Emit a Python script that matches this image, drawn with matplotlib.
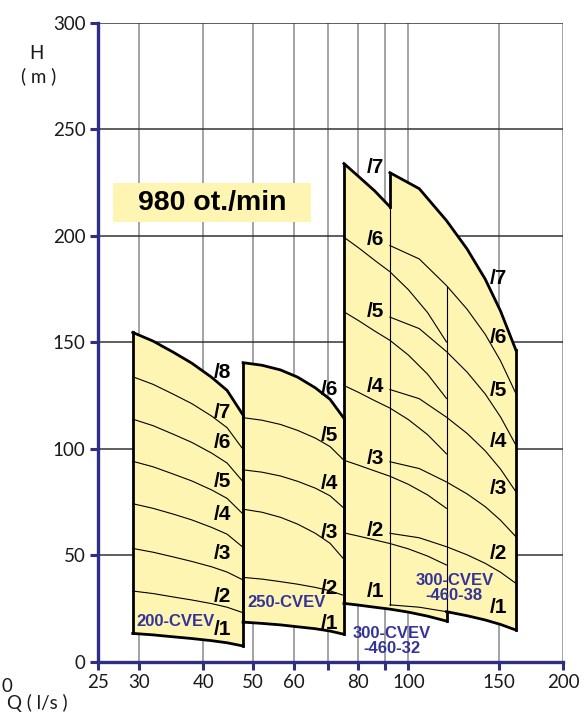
import matplotlib.pyplot as plt
from matplotlib.patches import Rectangle

# Q [l/s] grid per pump series, H [m] per stage (/1 at bottom ... /n at top)
q_200 = [29.2, 32, 35, 38, 41.5, 44.5, 47.8]
h_200 = [
    [13.2, 12.5, 11.6, 10.8, 9.8, 8.8, 7.3],
    [33.1, 31.9, 30.3, 28.9, 27.2, 25.5, 22.9],
    [53.1, 51.3, 49.1, 47.0, 44.5, 42.0, 38.3],
    [74.1, 71.9, 69.2, 66.5, 63.0, 59.8, 53.6],
    [94.0, 91.4, 88.0, 84.8, 80.6, 76.6, 69.2],
    [113.8, 110.7, 106.7, 102.9, 97.9, 93.2, 84.4],
    [133.7, 130.1, 125.5, 121.1, 115.3, 109.8, 99.6],
    [154.5, 150.4, 145.2, 140.1, 133.5, 127.3, 115.7],
]

q_250 = [47.8, 52, 56.5, 61, 66, 70.5, 75]
h_250 = [
    [18.5, 17.9, 17.2, 16.3, 15.4, 14.3, 12.8],
    [39.5, 38.7, 37.5, 36.3, 34.8, 33.2, 31.0],
    [71.5, 70.1, 67.7, 64.5, 60.2, 55.5, 48.0],
    [90.0, 88.9, 87.1, 84.6, 81.4, 77.8, 72.0],
    [114.5, 113.3, 111.3, 108.5, 104.9, 100.9, 94.5],
    [140.3, 139.1, 136.9, 133.5, 128.5, 123.1, 114.2],
]

q_300_32 = [75, 80, 86, 92.1, 100, 109, 118.6]
h_300_32 = [
    [27.3, 26.5, 25.5, 24.6, 23.2, 21.3, 19.0],
    [60.4, 58.9, 57.1, 55.4, 52.9, 49.5, 45.3],
    [94.5, 92.2, 89.5, 87.0, 83.2, 78.2, 71.9],
    [129.6, 126.4, 122.5, 119.0, 113.6, 106.5, 97.5],
    [164.2, 160.1, 155.2, 150.8, 143.9, 134.9, 123.5],
    [199.2, 194.3, 188.4, 183.0, 174.6, 163.8, 150.0],
    [233.8, 227.8, 221.0, 213.5, 204.8, 192.0, 175.8],
]

q_300_38 = [92.1, 105, 118.6, 130, 141, 151, 161.7]
h_300_38 = [
    [26.6, 25.5, 23.4, 21.5, 19.5, 17.4, 14.8],
    [60.2, 58.1, 53.9, 50.1, 46.1, 41.9, 36.7],
    [93.8, 90.6, 84.3, 78.7, 72.7, 66.3, 58.6],
    [127.7, 123.4, 114.7, 107.1, 98.9, 90.3, 79.7],
    [161.7, 156.3, 145.5, 135.9, 125.6, 114.8, 101.6],
    [195.3, 189.0, 176.5, 165.4, 153.6, 141.1, 125.8],
    [229.5, 222.0, 207.0, 193.7, 179.5, 164.5, 146.2],
]

# stage labels (Q, H per stage /1 ... /n)
lab_q = [43.6, 70.2, 86.3, 149.4]
lab_h = [
    [15.1, 30.4, 50.8, 68.8, 84.7, 102.7, 116.8, 135.8],
    [17.9, 34.1, 60.5, 83.5, 105.9, 127.5],
    [33.0, 61.5, 95.5, 129.3, 164.2, 198.2, 232.0],
    [25.5, 50.8, 81.2, 103.1, 127.3, 152.3, 179.7],
]

series_names = ["200-CVEV", "250-CVEV", "300-CVEV\n-460-32", "300-CVEV\n-460-38"]
series_q = [35.3, 58.1, 92.8, 122.8]
series_h = [18.7, 27.5, 9.6, 34.3]

x_ticks = [25, 30, 40, 50, 60, 70, 80, 90, 100, 150, 200]
x_labels = ["25", "30", "40", "50", "60", "", "80", "", "100", "150", "200"]
y_ticks = [0, 50, 100, 150, 200, 250, 300]

fill_col = "#FFF5B3"
navy = "#333399"
axis_col = "#2E2E85"
tick_font = dict(family="Lato", weight="normal", color="#1a1a1a")

fig = plt.figure(figsize=(5.86, 7.13), dpi=100)
ax = fig.add_axes([0.1672, 0.0722, 0.7944, 0.8962])
ax.set_xscale("log")
ax.set_xlim(25, 200)
ax.set_ylim(0, 300)

ax.set_xticks(x_ticks)
ax.set_xticklabels(x_labels)
ax.xaxis.set_minor_locator(plt.NullLocator())
ax.set_yticks(y_ticks)
for lab in ax.get_xticklabels() + ax.get_yticklabels():
    lab.set_fontsize(13.5)
    lab.set_fontfamily(tick_font["family"])
    lab.set_fontweight(tick_font["weight"])
    lab.set_color(tick_font["color"])
ax.tick_params(axis="both", direction="out", length=6, width=2.2, color=axis_col, pad=3)

ax.xaxis.grid(True, color="#8a8a8a", lw=1.1, zorder=0)
ax.yaxis.grid(True, color="#333333", lw=1.1, zorder=0)
ax.set_axisbelow(True)
for s in ["top", "right"]:
    ax.spines[s].set_visible(False)
for s in ["left", "bottom"]:
    ax.spines[s].set_color(axis_col)
    ax.spines[s].set_linewidth(2.4)
    ax.spines[s].set_zorder(6)

groups = [(q_200, h_200), (q_250, h_250), (q_300_32, h_300_32), (q_300_38, h_300_38)]

# fills
for q, h in groups:
    ax.fill_between(q, h[0], h[-1], color=fill_col, lw=0, zorder=2)

# thin stage curves
thin = dict(color="black", lw=0.8, zorder=3)
for q, h in groups:
    for curve in h[1:-1]:
        ax.plot(q, curve, **thin)
# edges hidden inside the overlap of the two 300 series
ax.plot([q_300_32[-1]] * 2, [h_300_32[0][-1], h_300_32[-1][-1]], **thin)
ax.plot([q_300_38[0]] * 2, [h_300_38[0][0], h_300_32[-1][3]], **thin)
ax.plot(q_300_38[:3], h_300_38[0][:3], **thin)

# thick outlines
thick = dict(color="black", lw=2.0, zorder=4, solid_joinstyle="miter")
for q, h in groups[:2]:
    ax.plot(q, h[-1], **thick)
    ax.plot(q, h[0], **thick)
    ax.plot([q[0]] * 2, [h[0][0], h[-1][0]], **thick)
    ax.plot([q[-1]] * 2, [h[0][-1], h[-1][-1]], **thick)

q, h = q_300_32, h_300_32
ax.plot([q[0]] * 2, [h[0][0], h[-1][0]], **thick)
ax.plot(q[:4], h[-1][:4], **thick)
ax.plot(q, h[0], **thick)
ax.plot([q[-1]] * 2, [h[0][-1], h_300_38[0][2]], **thick)

q, h = q_300_38, h_300_38
ax.plot([q[0]] * 2, [h_300_32[-1][3], h[-1][0]], **thick)
ax.plot(q, h[-1], **thick)
ax.plot([q[-1]] * 2, [h[0][-1], h[-1][-1]], **thick)
ax.plot(q[2:], h[0][2:], **thick)

# stage labels
for lq, hs in zip(lab_q, lab_h):
    for i, lh in enumerate(hs):
        ax.text(lq, lh, "/%d" % (i + 1), fontsize=15, fontweight="bold",
                family="Liberation Sans", ha="center", va="center", zorder=5)

for name, sq, sh in zip(series_names, series_q, series_h):
    ax.text(sq, sh, name, fontsize=12, fontweight="bold", family="Liberation Sans",
            color=navy, ha="center", va="center", linespacing=1.0, zorder=5)

# speed box
ax.add_patch(Rectangle((0.033, 0.6873), 0.424, 0.0611, transform=ax.transAxes,
                       facecolor=fill_col, edgecolor="none", zorder=5))
ax.text(0.245, 0.7178, "980 ot./min", transform=ax.transAxes, fontsize=20.5,
        fontweight="bold", family="Liberation Sans", ha="center", va="center", zorder=6)

fig.text(0.062, 0.925, "H", fontsize=13.5, ha="center", va="center", **tick_font)
fig.text(0.066, 0.893, "( m )", fontsize=13.5, ha="center", va="center", **tick_font)
fig.text(0.011, 0.037, "0", fontsize=13.5, ha="center", va="center", **tick_font)
fig.text(0.012, 0.014, "Q ( l/s )", fontsize=13.5, ha="left", va="center", **tick_font)

fig.savefig("out.png", dpi=100)
